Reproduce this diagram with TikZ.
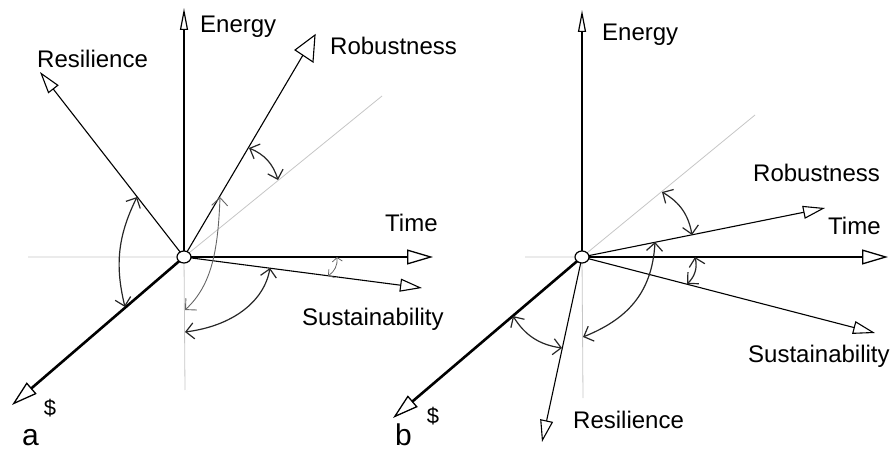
\documentclass[tikz,border=0pt]{standalone}
\usepackage{fontspec}
\setmainfont{Liberation Sans}
\usetikzlibrary{arrows.meta}

\begin{document}
\begin{tikzpicture}[x=1pt, y=1pt,
  axis/.style={line width=2.6pt, -{Triangle[open, length=26pt, width=15pt, line width=1.3pt]}},
  upaxis/.style={line width=2.6pt, -{Triangle[open, length=22pt, width=8pt, line width=1.2pt]}},
  ray/.style={line width=1.1pt, -{Triangle[open, length=22pt, width=13pt, line width=1.1pt]}},
  guide/.style={gray!45, line width=0.8pt},
  swing/.style={black!85, line width=1.2pt, {Straight Barb[length=8pt, width=16pt]}-{Straight Barb[length=8pt, width=16pt]}},
  smallswing/.style={line width=0.8pt, {Straight Barb[length=4pt, width=10pt]}-{Straight Barb[length=4pt, width=10pt]}},
  axislabel/.style={font=\fontsize{24}{28}\selectfont, inner sep=0pt, anchor=base west},
  moneylabel/.style={font=\fontsize{22}{26}\selectfont, inner sep=0pt},
  panellabel/.style={font=\fontsize{30}{34}\selectfont, inner sep=0pt, anchor=base west},
]
  \useasboundingbox (0,0) rectangle (893,450);

  % panel a
  \coordinate (origin-a) at (184,193);
  \coordinate (energy-a) at (184,442);
  \coordinate (time-a) at (433,193);
  \coordinate (money-a) at (12,45);
  \coordinate (resil-a) at (40,378);
  \coordinate (robust-a) at (303,395);
  \coordinate (sustain-a) at (422,162);
  \coordinate (diag-a) at (382,354);
  \coordinate (horiz-a) at (28,193);
  \coordinate (vert-a) at (185,60);

  % guide lines
  \draw[guide] (horiz-a) -- (origin-a) -- (diag-a);
  \draw[guide] (origin-a) -- (vert-a);

  % axes
  \draw[upaxis] (origin-a) -- (energy-a);
  \draw[axis] (origin-a) -- (time-a);
  \draw[axis] (origin-a) -- (money-a);

  % rays
  \draw[ray] (origin-a) -- (resil-a);
  \draw[ray] (origin-a) -- (sustain-a);
  \draw[line width=1.1pt] (origin-a) -- (robust-a);
  \draw[line width=1.1pt] (295,400) -- (315,415) -- (313,388) -- cycle;

  % angles
  \draw[swing] (249,302) to[bend left=25] (278,270);
  \draw[swing] (137,253) to[bend right=20] (125,143);
  \draw[swing, gray!80!black, line width=0.9pt] (220,253) .. controls (218,200) and (212,165) .. (185,140);
  \draw[swing] (270,182) .. controls (264,148) and (232,124) .. (185,118);
  \draw[smallswing, gray!80!black] (337,193) to[bend left=30] (328,174);

  \draw[fill=white, line width=1.2pt] (origin-a) ellipse [x radius=7, y radius=6];

  \node[axislabel] (energy-a-label) at (200,417) {Energy};
  \node[axislabel] (resil-a-label) at (37,382) {Resilience};
  \node[axislabel] (robust-a-label) at (330,395) {Robustness};
  \node[axislabel] (time-a-label) at (385,218) {Time};
  \node[axislabel] (sustain-a-label) at (302,125) {Sustainability};
  \node[moneylabel] (money-a-label) at (50,42) {\$};
  \node[panellabel] (panel-a) at (22,5) {a};

  % panel b
  \coordinate (origin-b) at (582,193);
  \coordinate (energy-b) at (582,440);
  \coordinate (time-b) at (888,193);
  \coordinate (money-b) at (393,32);
  \coordinate (resil-b) at (542,8);
  \coordinate (robust-b) at (825,242);
  \coordinate (sustain-b) at (875,117);
  \coordinate (diag-b) at (755,335);
  \coordinate (horiz-b) at (525,193);
  \coordinate (vert-b) at (583,52);

  % guide lines
  \draw[guide] (horiz-b) -- (origin-b) -- (diag-b);
  \draw[guide] (origin-b) -- (vert-b);

  % axes
  \draw[upaxis] (origin-b) -- (energy-b);
  \draw[axis] (origin-b) -- (time-b);
  \draw[axis] (origin-b) -- (money-b);

  % rays
  \draw[ray] (origin-b) -- (resil-b);
  \draw[ray] (origin-b) -- (sustain-b);
  \draw[ray] (origin-b) -- (robust-b);

  % angles
  \draw[swing] (662,258) to[bend left=25] (692,215);
  \draw[swing] (695,193) to[bend left=30] (687,166);
  \draw[swing] (655,208) .. controls (652,155) and (625,130) .. (583,113);
  \draw[swing] (513,134) to[bend right=25] (562,102);

  \draw[fill=white, line width=1.2pt] (origin-b) ellipse [x radius=7, y radius=6];

  \node[axislabel] (energy-b-label) at (602,409) {Energy};
  \node[axislabel] (robust-b-label) at (753,268) {Robustness};
  \node[axislabel] (time-b-label) at (828,215) {Time};
  \node[axislabel] (sustain-b-label) at (748,88) {Sustainability};
  \node[axislabel] (resil-b-label) at (573,22) {Resilience};
  \node[moneylabel] (money-b-label) at (433,34) {\$};
  \node[panellabel] (panel-b) at (395,5) {b};
\end{tikzpicture}
\end{document}
